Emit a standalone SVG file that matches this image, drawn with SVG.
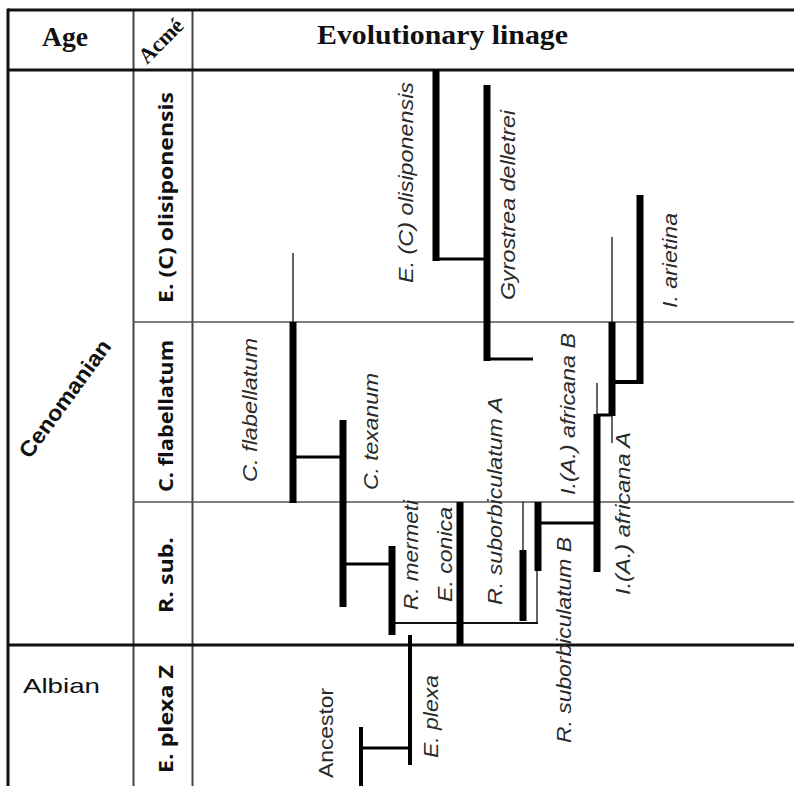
<svg xmlns="http://www.w3.org/2000/svg" width="794" height="786" viewBox="0 0 794 786">
<style>
.frame{stroke:#111;stroke-width:3;fill:none}
.col{stroke:#444;stroke-width:2;fill:none}
.row{stroke:#555;stroke-width:1.5;fill:none}
.hd{font-family:"Liberation Serif",serif;font-weight:bold;fill:#111}
.acme{font-family:"Open Sans","Liberation Sans",sans-serif;font-weight:bold;font-size:19px;fill:#111}
.age{font-family:"Liberation Sans",sans-serif;fill:#111}
.sp{font-family:"Liberation Sans",sans-serif;font-style:italic;font-size:21px;fill:#2a2a2a}
.up{font-family:"Liberation Sans",sans-serif;font-style:normal;font-size:21px;fill:#2a2a2a}
.bar{stroke:#000;stroke-width:7;fill:none}
.med{stroke:#000;stroke-width:4;fill:none}
.thin{stroke:#111;stroke-width:1.3;fill:none}
.link{stroke:#000;stroke-width:3;fill:none}
.tlink{stroke:#111;stroke-width:2;fill:none}
</style>
<rect width="794" height="786" fill="#fff"/>
<g id="table">
<line class="col" x1="133.5" y1="10" x2="133.5" y2="786"/>
<line class="col" x1="192.5" y1="10" x2="192.5" y2="786"/>
<line class="row" x1="133" y1="322" x2="794" y2="322"/>
<line class="row" x1="133" y1="502" x2="794" y2="502"/>
<line class="frame" x1="8" y1="10" x2="794" y2="10"/>
<line class="frame" x1="8" y1="8.5" x2="8" y2="786"/>
<line class="frame" x1="8" y1="70" x2="794" y2="70"/>
<line class="frame" x1="8" y1="645" x2="794" y2="645"/>
<text class="hd" x="42" y="46" font-size="28" textLength="46" lengthAdjust="spacingAndGlyphs">Age</text>
<text class="hd" transform="translate(147,65) rotate(-45)" font-size="22">Acmé</text>
<text class="hd" x="317" y="44" font-size="28" textLength="251" lengthAdjust="spacingAndGlyphs">Evolutionary linage</text>
<text class="age" font-weight="bold" transform="translate(71,403) rotate(-54)" text-anchor="middle" font-size="22" textLength="140" lengthAdjust="spacingAndGlyphs">Cenomanian</text>
<text class="age" x="23" y="693" font-size="21" textLength="77" lengthAdjust="spacingAndGlyphs">Albian</text>
<text class="acme" transform="translate(173,303) rotate(-90)" textLength="211" lengthAdjust="spacingAndGlyphs">E. (C) olisiponensis</text>
<text class="acme" transform="translate(173,492) rotate(-90)" textLength="152" lengthAdjust="spacingAndGlyphs">C. flabellatum</text>
<text class="acme" transform="translate(173,613) rotate(-90)" textLength="76" lengthAdjust="spacingAndGlyphs">R. sub.</text>
<text class="acme" transform="translate(173,773) rotate(-90)" textLength="108" lengthAdjust="spacingAndGlyphs">E. plexa Z</text>
</g>
<g id="connectors">
<line class="link" x1="436" y1="259" x2="487" y2="259"/>
<line class="link" x1="487" y1="359" x2="533" y2="359"/>
<line class="med" x1="612" y1="382" x2="640" y2="382"/>
<line class="link" x1="597" y1="415" x2="612" y2="415"/>
<line class="link" x1="541" y1="523" x2="594" y2="523"/>
<line class="tlink" x1="392" y1="623" x2="538" y2="623"/>
<line class="link" x1="343" y1="564" x2="392" y2="564"/>
<line class="link" x1="293" y1="457" x2="343" y2="457"/>
<line class="link" x1="361" y1="748" x2="410" y2="748"/>
</g>
<g id="e-c-olisiponensis">
<line class="bar" x1="436" y1="70" x2="436" y2="261"/>
<text class="sp" transform="translate(413,283) rotate(-90)" textLength="201" lengthAdjust="spacingAndGlyphs">E. (C) olisiponensis</text>
</g>
<g id="gyrostrea-delletrei">
<line class="bar" x1="487" y1="85" x2="487" y2="361"/>
<text class="sp" transform="translate(515,300) rotate(-90)" textLength="190" lengthAdjust="spacingAndGlyphs">Gyrostrea delletrei</text>
</g>
<g id="i-arietina">
<line class="bar" x1="640" y1="195" x2="640" y2="384"/>
<text class="sp" transform="translate(677,308) rotate(-90)" textLength="95" lengthAdjust="spacingAndGlyphs">I. arietina</text>
</g>
<g id="i-africana-b">
<line class="thin" x1="612" y1="237" x2="612" y2="322"/>
<line class="bar" x1="612" y1="322" x2="612" y2="416"/>
<line class="thin" x1="612" y1="416" x2="612" y2="443"/>
<text class="sp" transform="translate(575,495) rotate(-90)" textLength="162" lengthAdjust="spacingAndGlyphs">I.(A.) africana B</text>
</g>
<g id="i-africana-a">
<line class="thin" x1="597" y1="383" x2="597" y2="415"/>
<line class="bar" x1="597" y1="414" x2="597" y2="572"/>
<text class="sp" transform="translate(630,595) rotate(-90)" textLength="163" lengthAdjust="spacingAndGlyphs">I.(A.) africana A</text>
</g>
<g id="r-suborbiculatum-b">
<line class="bar" x1="538" y1="502" x2="538" y2="571"/>
<line class="thin" x1="537" y1="571" x2="537" y2="624"/>
<text class="sp" transform="translate(571,743) rotate(-90)" textLength="206" lengthAdjust="spacingAndGlyphs">R. suborbiculatum B</text>
</g>
<g id="r-suborbiculatum-a">
<line class="thin" x1="523" y1="502" x2="523" y2="550"/>
<line class="bar" x1="523" y1="550" x2="523" y2="621"/>
<text class="sp" transform="translate(502,605) rotate(-90)" textLength="208" lengthAdjust="spacingAndGlyphs">R. suborbiculatum A</text>
</g>
<g id="e-conica">
<line class="bar" x1="460" y1="502" x2="460" y2="645"/>
<text class="sp" transform="translate(452,602) rotate(-90)" textLength="95" lengthAdjust="spacingAndGlyphs">E. conica</text>
</g>
<g id="r-mermeti">
<line class="bar" x1="392" y1="546" x2="392" y2="635"/>
<text class="sp" transform="translate(418,610) rotate(-90)" textLength="110" lengthAdjust="spacingAndGlyphs">R. mermeti</text>
</g>
<g id="c-texanum">
<line class="bar" x1="343" y1="420" x2="343" y2="607"/>
<text class="sp" transform="translate(378,490) rotate(-90)" textLength="117" lengthAdjust="spacingAndGlyphs">C. texanum</text>
</g>
<g id="c-flabellatum">
<line class="thin" x1="293" y1="253" x2="293" y2="322"/>
<line class="bar" x1="293" y1="322" x2="293" y2="503"/>
<text class="sp" transform="translate(257,482) rotate(-90)" textLength="144" lengthAdjust="spacingAndGlyphs">C. flabellatum</text>
</g>
<g id="e-plexa">
<line class="med" x1="410" y1="635" x2="410" y2="765"/>
<text class="sp" transform="translate(438,758) rotate(-90)" textLength="83" lengthAdjust="spacingAndGlyphs">E. plexa</text>
</g>
<g id="ancestor">
<line class="med" x1="361" y1="727" x2="361" y2="786"/>
<text class="up" transform="translate(333,778) rotate(-90)" textLength="90" lengthAdjust="spacingAndGlyphs">Ancestor</text>
</g>
</svg>
